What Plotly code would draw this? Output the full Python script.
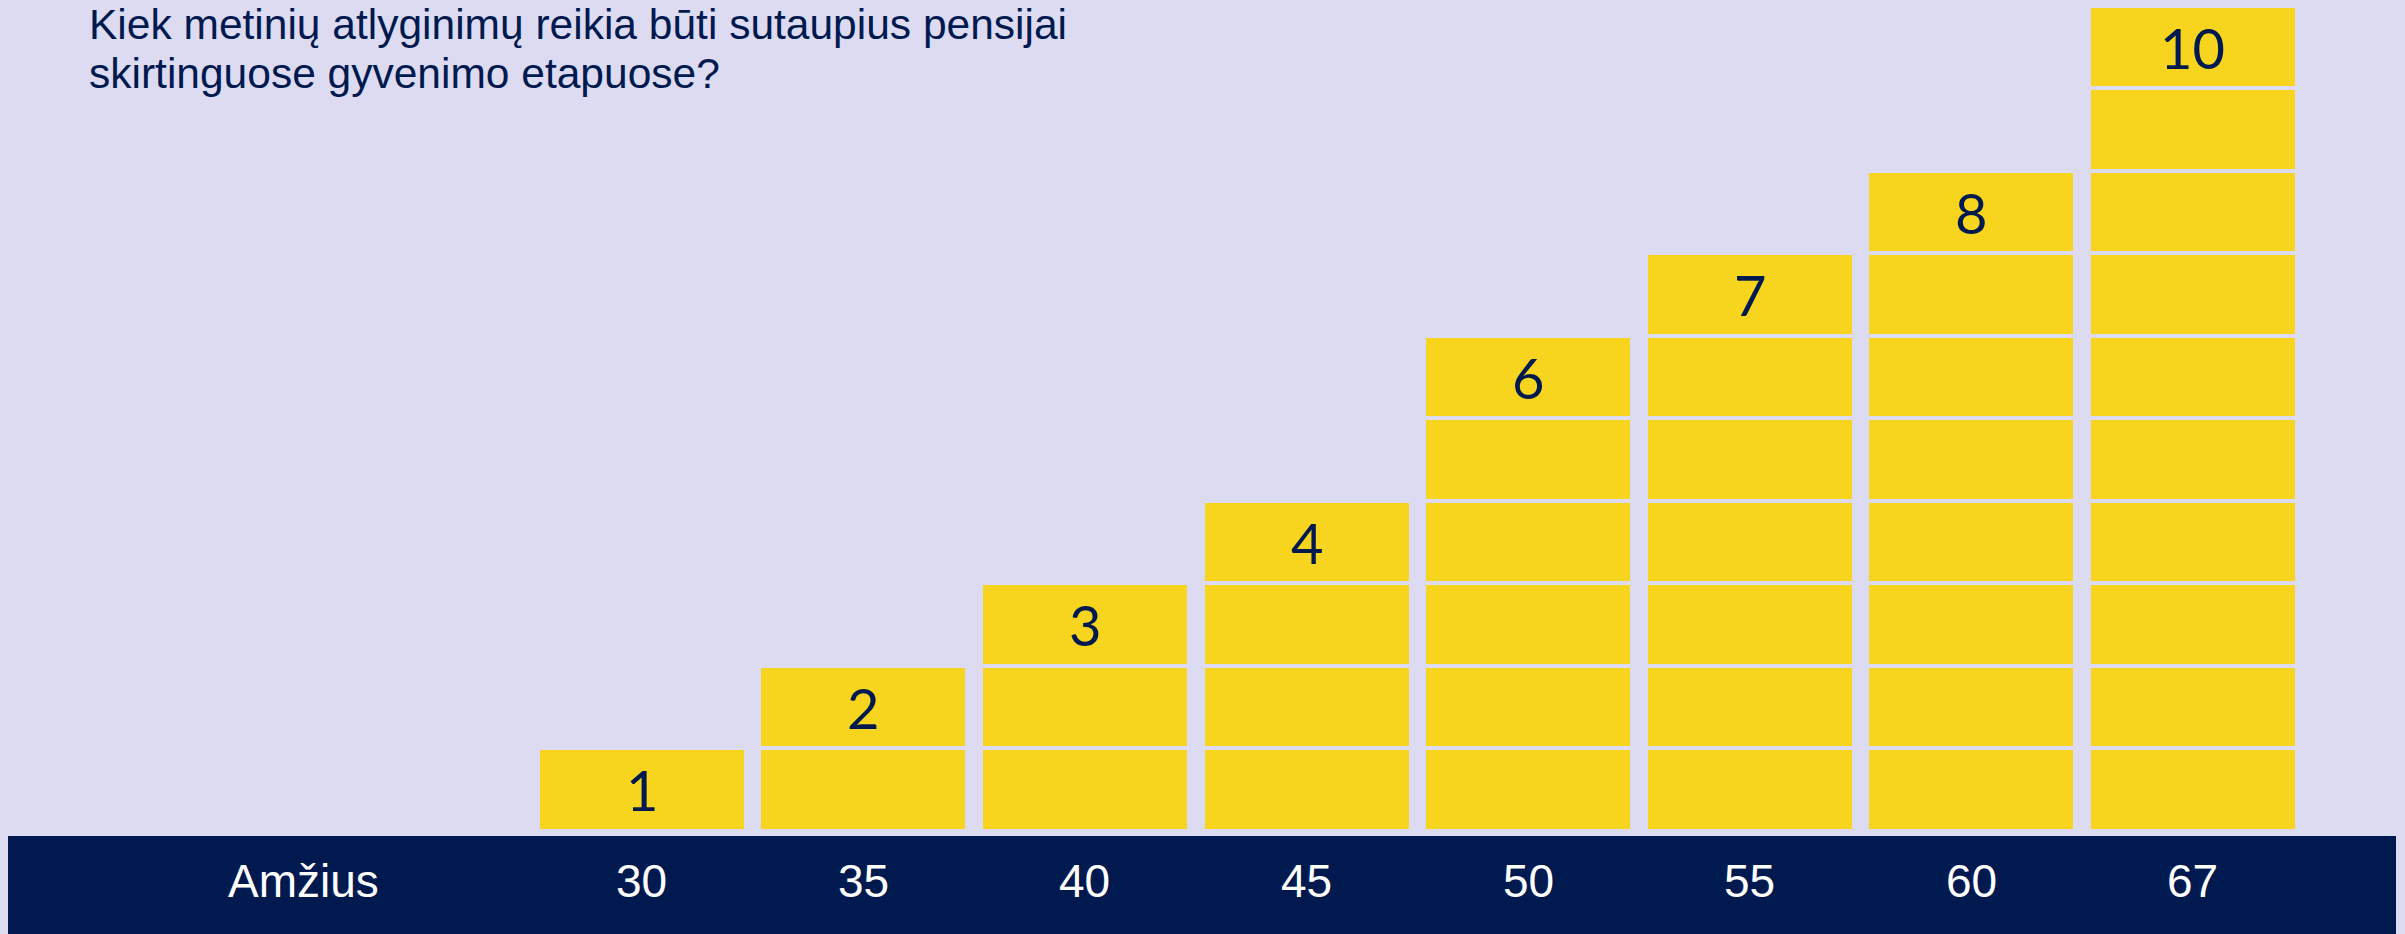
#%%
# imports
import plotly.graph_objects as go

#%%
# data
ages = ['30', '35', '40', '45', '50', '55', '60', '67']
salaries = [1, 2, 3, 4, 6, 7, 8, 10]
title_lines = ['Kiek metinių atlyginimų reikia būti sutaupius pensijai',
               'skirtinguose gyvenimo etapuose?']
axis_name = 'Amžius'

bg = '#DDDBF2'
yellow = '#F7D41D'
navy = '#00194F'

#%%
x_pos = list(range(len(ages)))

fig = go.Figure()

# one trace per level, so every column is a stack of unit blocks
for level in range(1, max(salaries) + 1):
    y_vals = [1 if v >= level else None for v in salaries]
    fig.add_bar(x=x_pos, y=y_vals, width=0.939,
                marker=dict(color=yellow, line=dict(color=bg, width=4)),
                hoverinfo='skip', showlegend=False)

# value in the top block of every column
for i, v in enumerate(salaries):
    fig.add_annotation(x=i, y=v - 0.5, xref='x', yref='y', text=str(v),
                       showarrow=False, font=dict(family='Lato', size=56, color=navy))

# navy strip with the ages
fig.add_shape(type='rect', xref='paper', yref='paper',
              x0=8 / 2405, x1=2396 / 2405, y0=0, y1=98 / 934,
              fillcolor=navy, line=dict(width=0), layer='below')

for i, a in enumerate(ages):
    fig.add_annotation(x=i, y=53 / 934, xref='x', yref='paper', text=a,
                       showarrow=False, xanchor='center', yanchor='middle',
                       font=dict(family='Liberation Sans', size=46, color='white'))

fig.add_annotation(x=303 / 2405, y=53 / 934, xref='paper', yref='paper', text=axis_name,
                   showarrow=False, xanchor='center', yanchor='middle',
                   font=dict(family='Liberation Sans', size=46, color='white'))

# title top left, one annotation per line
for n, line in enumerate(title_lines):
    fig.add_annotation(x=87 / 2405, y=1 - (25 + 48 * n) / 934, xref='paper', yref='paper',
                       text=line, showarrow=False, xanchor='left', yanchor='middle',
                       font=dict(family='Liberation Sans', size=42.5, color=navy))

fig.update_layout(width=2405, height=934,
                  margin=dict(l=0, r=0, t=0, b=0),
                  barmode='stack',
                  paper_bgcolor=bg, plot_bgcolor=bg,
                  xaxis=dict(range=[-2.898, 7.959], visible=False),
                  yaxis=dict(range=[0, 10.07], domain=[103 / 934, 1.0], visible=False))

# drop the default page margin so the figure fills the window
fig.write_html('out.html', config={'displayModeBar': False},
               post_script="document.body.style.margin='0';"
                           "document.body.style.overflow='hidden';"
                           "document.body.style.background='#DDDBF2';")
# %%
